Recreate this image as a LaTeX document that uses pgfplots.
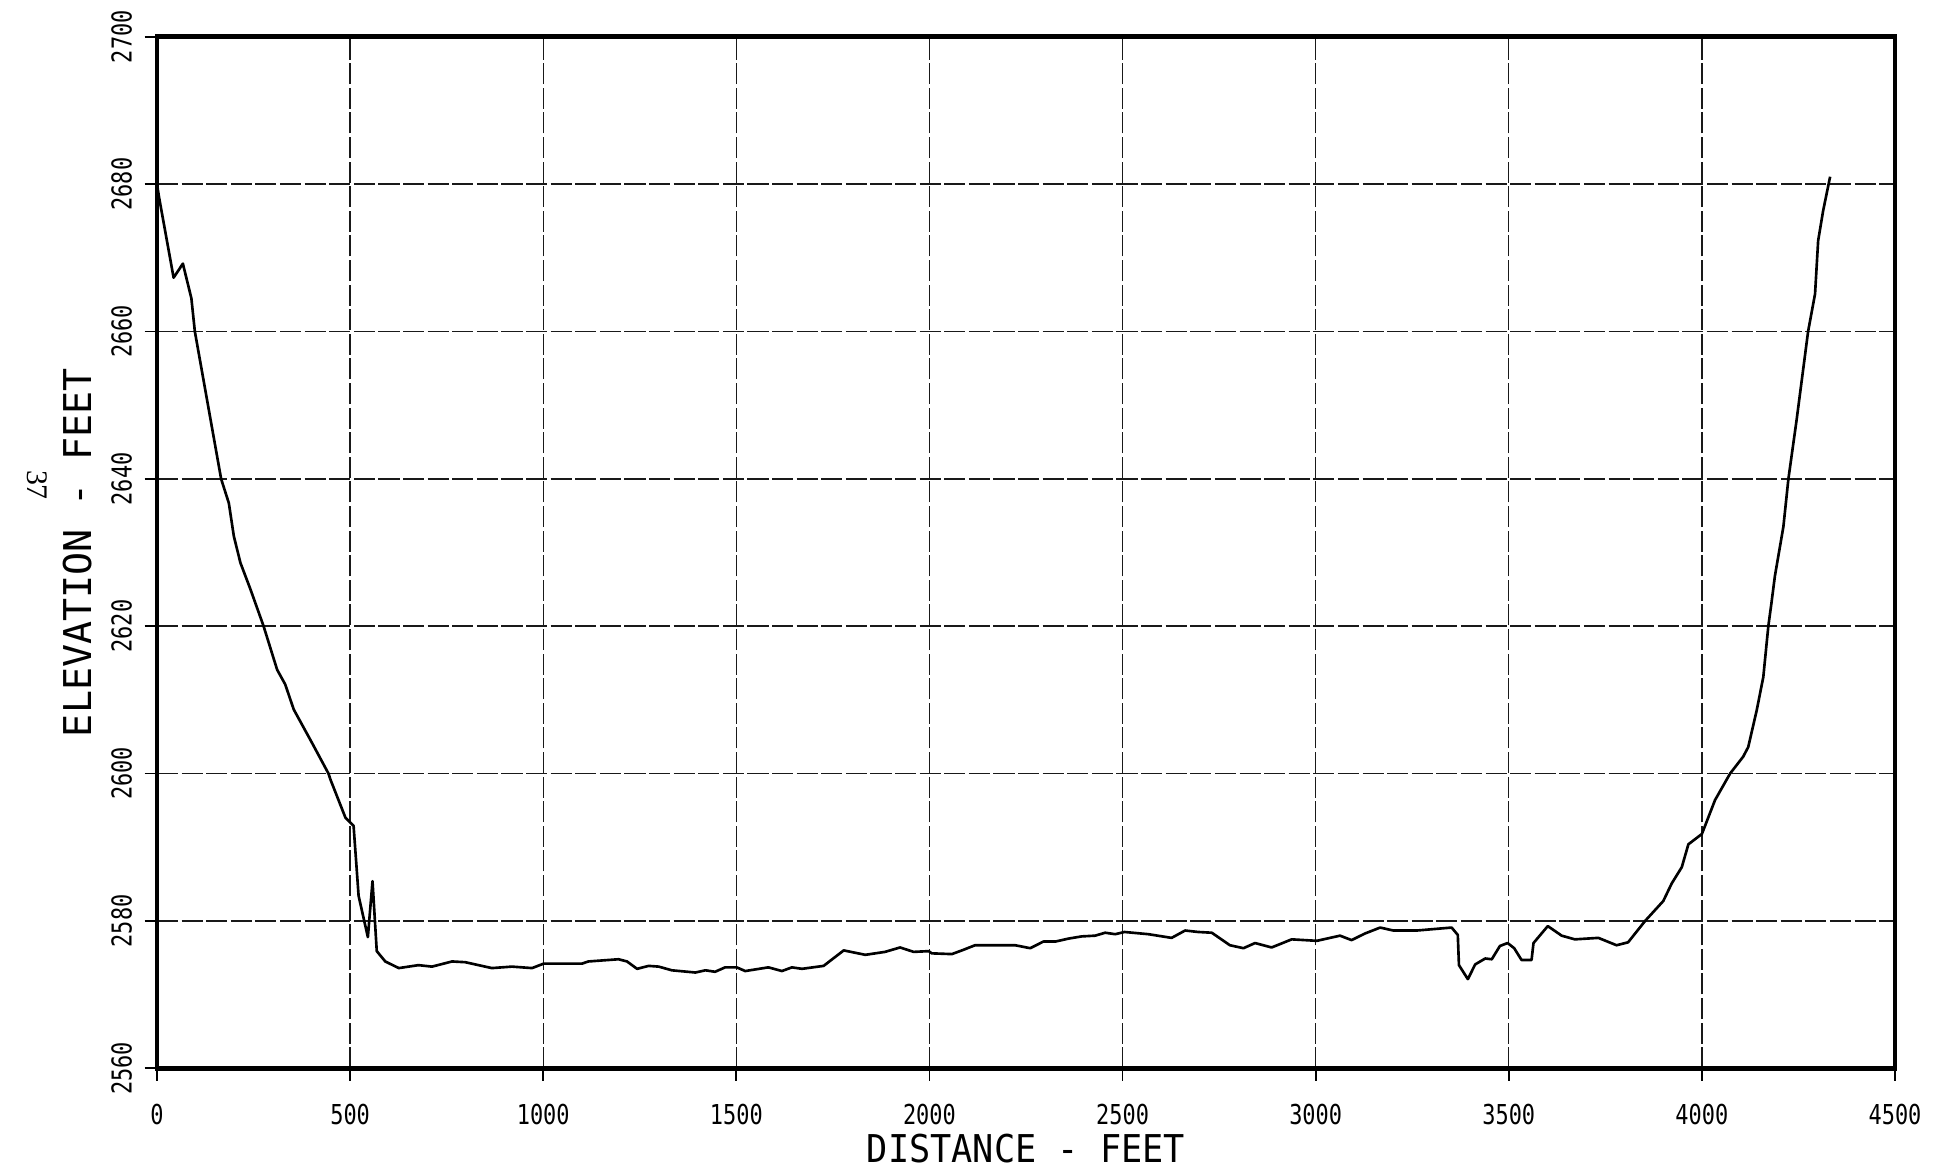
\documentclass[border=0pt]{standalone}
\usepackage{pgfplots}
\pgfplotsset{compat=1.18}
\usepackage{fontspec}
\setmainfont{DejaVu Sans Mono}
\newfontfamily\tickfont{DejaVu Sans Mono}[FakeStretch=0.8]
\newfontfamily\labelfont{DejaVu Sans Mono}[FakeStretch=0.92]
\newfontfamily\pagefont{Liberation Serif}

\pgfplotstableread{
x y
0 2680
5 2678.3
43 2667.3
67 2669.2
89 2664.5
98 2660
166 2640
186 2636.7
199 2632.2
216 2628.6
242 2625.0
276 2620
311 2614.1
332 2612.1
354 2608.7
401 2604.2
444 2600
449 2599.2
488 2594.0
509 2592.9
522 2583.4
546 2577.8
558 2585.4
569 2575.9
591 2574.5
626 2573.6
677 2574.0
712 2573.8
764 2574.5
798 2574.4
867 2573.6
919 2573.8
971 2573.6
1001 2574.2
1100 2574.2
1117 2574.5
1195 2574.8
1217 2574.5
1243 2573.5
1273 2573.9
1299 2573.8
1333 2573.3
1394 2573.0
1420 2573.3
1445 2573.1
1471 2573.7
1501 2573.7
1523 2573.2
1583 2573.7
1618 2573.2
1644 2573.7
1670 2573.5
1726 2573.9
1778 2576.0
1834 2575.4
1885 2575.8
1924 2576.4
1959 2575.8
1998 2575.9
2006 2575.6
2058 2575.5
2084 2576.0
2118 2576.7
2205 2576.7
2222 2576.7
2261 2576.3
2295 2577.2
2326 2577.2
2360 2577.6
2394 2577.9
2429 2578.0
2455 2578.4
2481 2578.2
2505 2578.5
2567 2578.2
2627 2577.7
2662 2578.7
2696 2578.5
2731 2578.4
2778 2576.7
2813 2576.3
2843 2577.0
2886 2576.4
2938 2577.5
3003 2577.3
3063 2578.0
3093 2577.4
3128 2578.3
3167 2579.1
3201 2578.7
3262 2578.7
3352 2579.1
3368 2578.1
3371 2574.0
3394 2572.1
3413 2574.1
3439 2574.9
3456 2574.8
3477 2576.6
3497 2577.0
3514 2576.3
3533 2574.7
3559 2574.7
3564 2577.0
3601 2579.3
3637 2578.0
3671 2577.5
3732 2577.7
3779 2576.7
3809 2577.1
3853 2580.0
3900 2582.7
3922 2585.1
3948 2587.3
3965 2590.4
4000 2591.8
4034 2596.4
4073 2600
4107 2602.3
4120 2603.6
4142 2608.6
4159 2613.1
4172 2620
4180 2623.1
4189 2626.8
4211 2633.5
4224 2640
4245 2647.9
4275 2660
4293 2665.1
4301 2672.3
4314 2676.4
4332 2681.0
}\profile

\begin{document}
\begin{tikzpicture}
\useasboundingbox (0,0) rectangle (19.5cm,11.68cm);
\begin{axis}[
  at={(1.57cm,0.997cm)}, anchor=south west,
  scale only axis, width=17.38cm, height=10.316cm,
  xmin=0, xmax=4500, ymin=2560, ymax=2700,
  xtick={0,500,...,4500}, ytick={2560,2580,...,2700},
  grid=major,
  major grid style={black!90, line width=0.4pt, dash pattern=on 6pt off 1pt},
  tick pos=left, tick align=outside, major tick length=3.5pt,
  tick style={black, line width=0.5pt},
  axis line style={line width=1.4pt},
  scaled ticks=false,
  /pgf/number format/1000 sep={},
  /pgf/number format/assume math mode=true,
  ticklabel style={font=\tickfont\fontsize{7.8}{8}\selectfont},
  xticklabel style={anchor=north, inner sep=0pt, yshift=-0.23cm},
  yticklabel style={xshift=-0.12cm, rotate=90, anchor=south, inner sep=0pt},
  xlabel={DISTANCE - FEET},
  xlabel style={at={(axis description cs:0.5,-0.063)}, anchor=north, inner sep=0pt, font=\labelfont\fontsize{10.9}{12}\selectfont},
  ylabel={ELEVATION - FEET},
  ylabel style={at={(axis description cs:-0.0368,0.5)}, anchor=south, inner sep=0pt, font=\fontsize{10.9}{12}\selectfont},
]
\addplot[black, line width=0.75pt, line join=round, mark=none] table[x=x, y=y] {\profile};
\end{axis}
\node[rotate=-90, font=\pagefont\fontsize{8.5}{9}\selectfont] at (0.37cm,6.83cm) {37};
\end{tikzpicture}
\end{document}
